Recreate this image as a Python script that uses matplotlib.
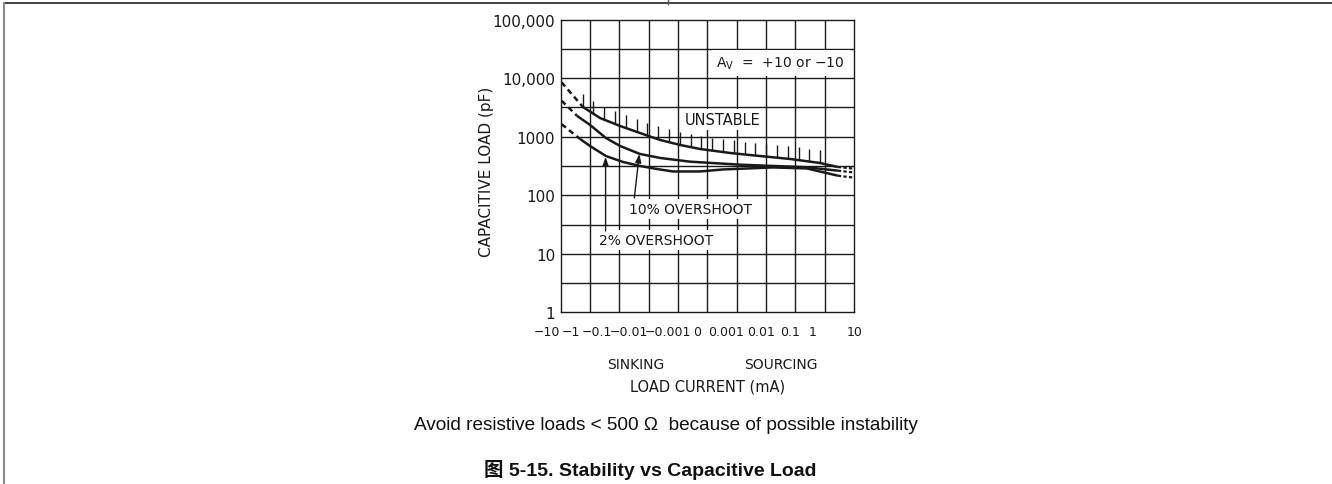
import matplotlib
matplotlib.use("Agg")
import matplotlib.pyplot as plt
from matplotlib.lines import Line2D
import numpy as np

# x positions are grid columns: 0 -> -10 mA ... 5 -> 0 ... 10 -> +10 mA
x_labels = ["\u221210", "\u22121", "\u22120.1", "\u22120.01", "\u22120.001", "0",
            "0.001", "0.01", "0.1", "1", "10"]
x_label_pos = [-0.48, 0.35, 1.22, 2.31, 3.66, 4.66, 5.64, 6.83, 7.82, 8.6, 10.03]

y_ticks = [1, 10, 100, 1000, 10000, 100000]
y_tick_labels = ["1", "10", "100", "1000", "10,000", "100,000"]

# unstable boundary (top curve)
unstable_x = [0.76, 1.34, 2.02, 2.70, 3.39, 4.07, 4.75, 5.77, 6.80, 7.82, 8.84, 9.45]
unstable_y = [3220, 2090, 1530, 1160, 881, 724, 618, 528, 468, 417, 356, 304]
unstable_dash_x = [0.03, 0.76]
unstable_dash_y = [8510, 3220]
unstable_end_x = [9.45, 10.0]
unstable_end_y = [304, 285]

# 10% overshoot
os10_x = [0.56, 1.0, 1.54, 2.02, 2.70, 3.39, 4.41, 6.12, 8.40, 9.45]
os10_y = [2270, 1590, 953, 697, 508, 434, 375, 333, 301, 263]
os10_dash_x = [0.03, 0.56]
os10_dash_y = [4130, 2270]
os10_end_x = [9.45, 10.0]
os10_end_y = [263, 245]

# 2% overshoot
os2_x = [0.66, 1.0, 1.54, 2.12, 2.70, 3.28, 3.83, 4.75, 5.53, 7.24, 8.40, 9.45]
os2_y = [916, 695, 469, 371, 317, 281, 255, 255, 276, 299, 287, 216]
os2_dash_x = [0.03, 0.66]
os2_dash_y = [1640, 916]
os2_end_x = [9.45, 10.0]
os2_end_y = [216, 200]

W, H = 1332, 485
ink = "#1a1a1a"


def fx(px):
    return px / W


def fy(py):
    return 1 - py / H


fig = plt.figure(figsize=(W / 100, H / 100), dpi=100)

# page frame of the datasheet
fig.add_artist(Line2D([fx(4), 1], [fy(4), fy(4)], color="#222222", lw=1.2))
fig.add_artist(Line2D([fx(4), fx(4)], [0, fy(4)], color="#8a8a8a", lw=1.5))
fig.add_artist(Line2D([fx(668), fx(668)], [fy(0), fy(5)], color="#555555", lw=1.0))

ax = fig.add_axes([fx(560.7), fy(313.3), fx(854) - fx(560.7), fy(20.7) - fy(313.3)])
ax.set_yscale("log")
ax.set_xlim(0, 10)
ax.set_ylim(1, 1e5)

for i in range(1, 10):
    ax.axvline(i, color=ink, lw=1.0, zorder=1)
for k in range(1, 10):
    ax.axhline(10 ** (k / 2), color=ink, lw=1.0, zorder=1)
for s in ax.spines.values():
    s.set_color(ink)
    s.set_linewidth(1.0)

ax.set_xticks([])
ax.set_yticks(y_ticks)
ax.set_yticklabels(y_tick_labels)
ax.yaxis.set_minor_locator(matplotlib.ticker.NullLocator())
ax.tick_params(axis="y", length=0, pad=4, labelsize=11, colors=ink)

for lab, pos in zip(x_labels, x_label_pos):
    ax.text(pos, -0.067, lab, transform=ax.get_xaxis_transform(), ha="center",
            va="center", fontsize=9, color=ink, clip_on=False)

# curves
for xs, ys in [(unstable_x, unstable_y), (os10_x, os10_y), (os2_x, os2_y)]:
    ax.plot(xs, ys, color=ink, lw=1.8, zorder=4, solid_capstyle="butt")
for xs, ys in [(unstable_dash_x, unstable_dash_y), (os10_dash_x, os10_dash_y),
               (os2_dash_x, os2_dash_y)]:
    ax.plot(xs, ys, color=ink, lw=1.8, ls=(0, (2.2, 1.6)), zorder=4)
for xs, ys in [(unstable_end_x, unstable_end_y), (os10_end_x, os10_end_y),
               (os2_end_x, os2_end_y)]:
    ax.plot(xs, ys, color=ink, lw=1.6, ls=(0, (1.5, 1.0)), zorder=4)

# hatch marks along the unstable boundary
hx = np.arange(0.75, 9.2, 0.368)
hy = 10 ** np.interp(hx, unstable_x, np.log10(unstable_y))
ax.vlines(hx, hy, hy * 10 ** 0.22, color=ink, lw=1.0, zorder=4)

box = dict(boxstyle="square,pad=0.2", fc="white", ec="none")
ax.text(7.5, 18200, "$\\mathregular{A_V}$  =  +10 or \u221210",
        ha="center", va="center", fontsize=10, color=ink, zorder=3,
        bbox=dict(boxstyle="square,pad=0.35", fc="white", ec="none"))
ax.text(5.52, 1970, "UNSTABLE", ha="center", va="center", fontsize=10.5,
        color=ink, zorder=3, bbox=box)
ax.text(4.41, 58.3, "10% OVERSHOOT", ha="center", va="center", fontsize=10,
        color=ink, zorder=3, bbox=box)
ax.text(3.25, 17.2, "2% OVERSHOOT", ha="center", va="center", fontsize=10,
        color=ink, zorder=3, bbox=box)

arrow = dict(arrowstyle="-|>,head_length=0.5,head_width=0.18", color=ink, lw=1.0,
             shrinkA=0, shrinkB=0)
ax.annotate("", xy=(2.68, 508), xytext=(2.51, 90), arrowprops=arrow, zorder=5)
ax.annotate("", xy=(1.53, 451), xytext=(1.53, 24.5), arrowprops=arrow, zorder=5)

fig.text(fx(486.5), fy(171.5), "CAPACITIVE LOAD (pF)", rotation=90, ha="center",
         va="center", fontsize=11, color=ink)
fig.text(fx(636), fy(365), "SINKING", ha="center", va="center", fontsize=10, color=ink)
fig.text(fx(781), fy(365), "SOURCING", ha="center", va="center", fontsize=10, color=ink)
fig.text(fx(707.5), fy(387), "LOAD CURRENT (mA)", ha="center", va="center",
         fontsize=10.5, color=ink)

fig.text(fx(666), fy(426), "Avoid resistive loads < 500 \u03a9  because of possible instability",
         ha="center", va="center", fontsize=13.7, color="#111111",
         family=["Liberation Sans", "DejaVu Sans"])
fig.text(fx(650.5), fy(470), "\u56fe 5-15. Stability vs Capacitive Load", ha="center",
         va="center", fontsize=14, fontweight="bold", color="#111111",
         family=["Liberation Sans", "Noto Sans CJK SC", "DejaVu Sans"])

fig.savefig("out.png", dpi=100)
